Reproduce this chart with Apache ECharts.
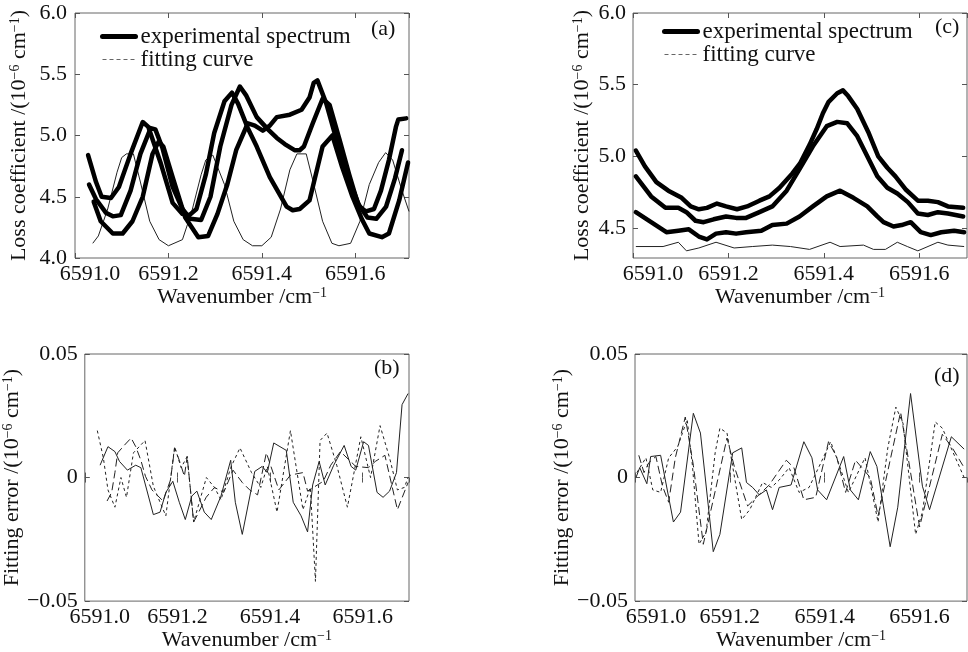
<!DOCTYPE html>
<html><head><meta charset="utf-8">
<script src="https://cdn.jsdelivr.net/npm/echarts@6/dist/echarts.min.js"></script>
<style>html,body{margin:0;padding:0;background:#fff}#c{width:968px;height:652px}</style>
</head><body><div id="c"></div>
<script>
// ---------- DATA ----------
const xTickStep = 0.2;
const lossTicksC = [4.5, 5.0, 5.5, 6.0];
const legendNames = ['experimental spectrum', 'fitting curve'];
const panelLabels = ['(a)', '(c)', '(b)', '(d)'];

// (a) experimental spectra
const aExp1 = [[6591.028,4.84],[6591.045,4.62],[6591.057,4.50],[6591.077,4.49],[6591.094,4.58],[6591.119,4.85],[6591.145,5.11],[6591.157,5.07],[6591.183,4.78],[6591.209,4.45],[6591.230,4.36],[6591.245,4.35],[6591.260,4.40],[6591.280,4.68],[6591.298,5.02],[6591.320,5.28],[6591.336,5.35],[6591.349,5.26],[6591.370,5.06],[6591.389,4.91],[6591.417,4.66],[6591.453,4.42],[6591.466,4.39],[6591.481,4.40],[6591.502,4.47],[6591.530,4.91],[6591.551,5.00],[6591.572,4.74],[6591.594,4.50],[6591.615,4.31],[6591.630,4.20],[6591.657,4.17],[6591.672,4.20],[6591.694,4.47],[6591.713,4.78]];
const aExp2 = [[6591.030,4.60],[6591.045,4.48],[6591.066,4.37],[6591.081,4.34],[6591.098,4.35],[6591.119,4.55],[6591.140,4.85],[6591.162,5.06],[6591.172,5.05],[6591.187,4.90],[6591.209,4.58],[6591.230,4.40],[6591.247,4.32],[6591.270,4.31],[6591.290,4.50],[6591.311,4.91],[6591.335,5.25],[6591.353,5.40],[6591.366,5.33],[6591.389,5.15],[6591.413,5.05],[6591.432,4.98],[6591.449,4.93],[6591.470,4.88],[6591.481,4.88],[6591.490,4.91],[6591.509,5.10],[6591.530,5.30],[6591.545,5.25],[6591.566,4.97],[6591.587,4.68],[6591.605,4.45],[6591.626,4.33],[6591.645,4.32],[6591.666,4.42],[6591.685,4.65],[6591.700,4.88]];
const aExp3 = [[6591.040,4.46],[6591.055,4.30],[6591.081,4.20],[6591.102,4.20],[6591.123,4.30],[6591.145,4.50],[6591.166,4.85],[6591.179,4.95],[6591.189,4.91],[6591.209,4.66],[6591.236,4.33],[6591.264,4.17],[6591.285,4.18],[6591.305,4.36],[6591.326,4.60],[6591.345,4.88],[6591.370,5.10],[6591.385,5.08],[6591.402,5.04],[6591.417,5.08],[6591.432,5.15],[6591.460,5.17],[6591.485,5.21],[6591.502,5.31],[6591.511,5.43],[6591.519,5.45],[6591.538,5.26],[6591.566,4.88],[6591.587,4.64],[6591.609,4.42],[6591.623,4.38],[6591.640,4.40],[6591.655,4.55],[6591.672,4.80],[6591.687,5.07],[6591.692,5.13],[6591.709,5.14]];
// (a) thin curve
const aThin = [[6591.038,4.12],[6591.050,4.18],[6591.070,4.40],[6591.090,4.70],[6591.100,4.82],[6591.110,4.85],[6591.125,4.85],[6591.140,4.62],[6591.160,4.30],[6591.180,4.15],[6591.200,4.10],[6591.230,4.15],[6591.250,4.38],[6591.270,4.68],[6591.280,4.80],[6591.295,4.84],[6591.320,4.60],[6591.340,4.30],[6591.360,4.15],[6591.380,4.10],[6591.400,4.10],[6591.420,4.17],[6591.440,4.40],[6591.460,4.72],[6591.475,4.85],[6591.495,4.85],[6591.510,4.62],[6591.530,4.30],[6591.550,4.12],[6591.565,4.10],[6591.590,4.12],[6591.610,4.30],[6591.630,4.60],[6591.650,4.78],[6591.665,4.86],[6591.680,4.80],[6591.700,4.55],[6591.715,4.38]];

// (c) experimental spectra
const cExp1 = [[6591.006,5.04],[6591.025,4.93],[6591.049,4.82],[6591.074,4.76],[6591.102,4.71],[6591.121,4.65],[6591.138,4.63],[6591.155,4.64],[6591.176,4.67],[6591.195,4.65],[6591.218,4.63],[6591.239,4.65],[6591.265,4.69],[6591.286,4.72],[6591.307,4.78],[6591.334,4.88],[6591.350,4.95],[6591.370,5.08],[6591.385,5.19],[6591.398,5.30],[6591.410,5.38],[6591.428,5.44],[6591.440,5.46],[6591.451,5.42],[6591.470,5.33],[6591.493,5.17],[6591.514,5.00],[6591.533,4.92],[6591.550,4.86],[6591.571,4.77],[6591.597,4.69],[6591.618,4.69],[6591.639,4.68],[6591.660,4.65],[6591.692,4.64]];
const cExp2 = [[6591.006,4.86],[6591.038,4.72],[6591.068,4.64],[6591.095,4.64],[6591.112,4.61],[6591.131,4.55],[6591.148,4.54],[6591.169,4.56],[6591.195,4.58],[6591.216,4.57],[6591.237,4.57],[6591.265,4.61],[6591.292,4.65],[6591.322,4.76],[6591.349,4.91],[6591.377,5.07],[6591.406,5.21],[6591.428,5.24],[6591.449,5.23],[6591.470,5.14],[6591.491,5.00],[6591.512,4.86],[6591.533,4.78],[6591.554,4.74],[6591.576,4.68],[6591.597,4.60],[6591.618,4.59],[6591.639,4.61],[6591.660,4.60],[6591.692,4.58]];
const cExp3 = [[6591.006,4.61],[6591.038,4.54],[6591.070,4.47],[6591.095,4.48],[6591.117,4.49],[6591.138,4.44],[6591.155,4.42],[6591.174,4.46],[6591.195,4.47],[6591.216,4.46],[6591.237,4.47],[6591.269,4.48],[6591.292,4.52],[6591.322,4.53],[6591.349,4.58],[6591.377,4.65],[6591.406,4.72],[6591.434,4.76],[6591.462,4.71],[6591.491,4.65],[6591.512,4.58],[6591.525,4.54],[6591.546,4.51],[6591.563,4.52],[6591.582,4.54],[6591.603,4.47],[6591.624,4.45],[6591.646,4.47],[6591.673,4.48],[6591.694,4.47]];
// (c) thin curve
const cThin = [[6591.006,4.37],[6591.063,4.37],[6591.095,4.40],[6591.112,4.34],[6591.138,4.36],[6591.174,4.40],[6591.212,4.36],[6591.250,4.37],[6591.292,4.38],[6591.330,4.37],[6591.370,4.35],[6591.413,4.40],[6591.434,4.37],[6591.483,4.38],[6591.504,4.35],[6591.529,4.35],[6591.554,4.40],[6591.575,4.37],[6591.597,4.34],[6591.639,4.40],[6591.660,4.38],[6591.694,4.37]];

// (b) fitting errors
const bSolid = [[6591.033,0.005],[6591.050,0.0125],[6591.065,0.0105],[6591.075,0.0065],[6591.092,0.003],[6591.110,0.005],[6591.121,0.004],[6591.148,-0.015],[6591.1625,-0.014],[6591.175,-0.006],[6591.190,-0.0015],[6591.204,-0.010],[6591.217,-0.017],[6591.231,-0.0075],[6591.242,-0.0055],[6591.258,-0.014],[6591.273,-0.017],[6591.294,-0.0075],[6591.315,0.007],[6591.325,-0.010],[6591.340,-0.023],[6591.367,0.0025],[6591.383,0.0045],[6591.394,0.002],[6591.408,0.014],[6591.435,0.011],[6591.450,-0.010],[6591.467,-0.0155],[6591.481,-0.022],[6591.492,-0.003],[6591.506,0.0065],[6591.519,-0.003],[6591.5375,0.005],[6591.560,0.013],[6591.575,0.0045],[6591.585,0.003],[6591.602,0.0145],[6591.6125,0.013],[6591.631,-0.006],[6591.644,-0.008],[6591.658,-0.0055],[6591.673,0.002],[6591.685,0.0295],[6591.698,0.034]];
const bLong = [[6591.048,-0.0095],[6591.058,-0.006],[6591.065,0.002],[6591.071,0.010],[6591.085,0.013],[6591.100,0.016],[6591.110,0.0125],[6591.121,0.007],[6591.131,0.0005],[6591.145,-0.005],[6591.169,-0.0095],[6591.185,-0.001],[6591.194,0.012],[6591.204,0.007],[6591.215,0.0005],[6591.221,0.0085],[6591.235,-0.018],[6591.246,-0.014],[6591.262,-0.008],[6591.280,-0.004],[6591.300,-0.006],[6591.320,0.003],[6591.340,-0.002],[6591.356,-0.005],[6591.373,-0.007],[6591.392,0.010],[6591.419,-0.005],[6591.444,0.001],[6591.471,0.002],[6591.481,-0.0055],[6591.515,-0.0015],[6591.531,0.005],[6591.552,0.0105],[6591.585,0.0045],[6591.6125,0.004],[6591.627,0.0065],[6591.648,0.009],[6591.675,-0.013],[6591.698,-0.002]];
const bShort = [[6591.027,0.019],[6591.040,0.008],[6591.050,-0.005],[6591.065,-0.012],[6591.078,0.000],[6591.090,-0.008],[6591.105,0.010],[6591.130,0.015],[6591.148,-0.0035],[6591.1625,-0.010],[6591.175,-0.0155],[6591.194,0.0125],[6591.208,0.004],[6591.221,0.0085],[6591.235,-0.018],[6591.2625,0.000],[6591.280,-0.004],[6591.294,-0.009],[6591.315,0.004],[6591.335,0.012],[6591.360,0.002],[6591.380,-0.004],[6591.394,0.0045],[6591.415,-0.014],[6591.444,0.019],[6591.471,-0.013],[6591.487,-0.004],[6591.498,-0.042],[6591.508,0.015],[6591.523,0.018],[6591.544,0.005],[6591.567,-0.012],[6591.596,0.0165],[6591.617,0.000],[6591.6375,0.021],[6591.658,0.008],[6591.675,-0.005],[6591.690,-0.004],[6591.698,0.000]];

// (d) fitting errors
const dSolid = [[6591.002,0.000],[6591.010,0.004],[6591.025,-0.0025],[6591.033,0.0085],[6591.054,0.009],[6591.081,-0.018],[6591.096,-0.014],[6591.123,0.026],[6591.138,0.018],[6591.165,-0.030],[6591.179,-0.023],[6591.206,0.010],[6591.225,0.012],[6591.235,-0.002],[6591.248,-0.004],[6591.262,-0.007],[6591.277,-0.005],[6591.290,-0.013],[6591.304,-0.004],[6591.329,-0.003],[6591.356,0.0145],[6591.373,0.008],[6591.385,-0.005],[6591.404,-0.009],[6591.440,0.0085],[6591.454,-0.005],[6591.471,-0.009],[6591.496,0.0105],[6591.510,0.0045],[6591.538,-0.028],[6591.554,-0.012],[6591.581,0.034],[6591.606,-0.0035],[6591.621,-0.013],[6591.667,0.0165],[6591.694,0.0115]];
const dLong = [[6591.008,0.009],[6591.019,0.002],[6591.029,0.006],[6591.044,0.0085],[6591.058,-0.0035],[6591.071,-0.010],[6591.085,0.008],[6591.106,0.0245],[6591.123,0.005],[6591.144,-0.027],[6591.158,-0.015],[6591.194,0.016],[6591.210,0.004],[6591.2375,-0.0115],[6591.256,-0.008],[6591.283,-0.003],[6591.319,0.007],[6591.335,0.004],[6591.356,-0.009],[6591.381,-0.008],[6591.408,0.0145],[6591.425,0.0085],[6591.444,-0.006],[6591.465,0.007],[6591.496,0.000],[6591.5125,-0.0155],[6591.560,0.0265],[6591.600,-0.020],[6591.648,0.0175],[6591.669,0.012],[6591.694,0.004]];
const dShort = [[6591.004,0.002],[6591.023,0.008],[6591.0375,-0.005],[6591.054,-0.006],[6591.071,0.008],[6591.090,0.0125],[6591.110,0.0235],[6591.121,0.005],[6591.135,-0.027],[6591.150,-0.022],[6591.169,0.010],[6591.179,0.020],[6591.194,0.018],[6591.225,-0.017],[6591.242,-0.013],[6591.269,-0.002],[6591.2875,-0.004],[6591.304,-0.001],[6591.325,0.004],[6591.346,-0.006],[6591.367,-0.004],[6591.392,0.006],[6591.4125,0.0145],[6591.429,0.006],[6591.450,-0.006],[6591.485,0.008],[6591.5125,-0.018],[6591.533,0.012],[6591.550,0.0285],[6591.565,0.022],[6591.5917,-0.023],[6591.606,-0.014],[6591.633,0.0225],[6591.648,0.020],[6591.694,0.000]];

// ---------- CHART ----------
const FONT = "'Liberation Serif', 'Times New Roman', serif";
const TXT = '#111';
const FS = 22;
const supRich = { s: { fontSize: 14, fontFamily: FONT, color: TXT, verticalAlign: 'top', lineHeight: 14 } };

const grids = [
  { left: 75, top: 13, width: 334, height: 245 },   // a
  { left: 633, top: 13, width: 334, height: 245 },  // c
  { left: 75, top: 354, width: 334, height: 248 },  // b
  { left: 635, top: 354, width: 332, height: 248 }  // d
].map(g => Object.assign(g, { show: true, borderColor: '#666', borderWidth: 1, containLabel: false }));

const xMax = [6591.715, 6591.70, 6591.70, 6591.70];
const firstShift = [15, 20, 15, 21];

const tickStyle = { inside: true, length: 5, lineStyle: { color: '#555' } };
const xAxis = [], yAxis = [];
grids.forEach((g, i) => {
  xAxis.push({
    type: 'value', gridIndex: i, min: 6591.0, max: xMax[i], interval: xTickStep, position: 'bottom',
    name: 'Wavenumber /cm{s|−1}', nameLocation: 'middle', nameGap: 26,
    nameTextStyle: { fontFamily: FONT, fontSize: FS, color: TXT, rich: supRich },
    axisLine: { show: false }, axisTick: tickStyle, splitLine: { show: false },
    axisLabel: {
      margin: 5, fontFamily: FONT, fontSize: FS, color: TXT, showMaxLabel: false, showMinLabel: true,
      alignMinLabel: 'center', hideOverlap: false,
      formatter: v => Math.abs(v - 6591) < 1e-6 ? '{f|6591.0}' : v.toFixed(1),
      rich: { f: { fontFamily: FONT, fontSize: FS, color: TXT, padding: [0, 0, 0, firstShift[i] * 2] } }
    }
  });
  xAxis.push({
    type: 'value', gridIndex: i, min: 6591.0, max: xMax[i], interval: xTickStep, position: 'top',
    axisLine: { show: false }, axisTick: tickStyle, axisLabel: { show: false }, splitLine: { show: false }
  });
  const isLoss = i < 2;
  const base = { type: 'value', gridIndex: i, axisLine: { show: false }, splitLine: { show: false } };
  let main, side;
  if (i === 0) {
    main = Object.assign({}, base, { min: 4.0, max: 6.0, interval: 0.5, axisTick: tickStyle,
      axisLabel: { margin: 8, fontFamily: FONT, fontSize: FS, color: TXT, formatter: v => v.toFixed(1) } });
    side = Object.assign({}, base, { min: 4.0, max: 6.0, interval: 0.5, position: 'right', axisTick: tickStyle, axisLabel: { show: false } });
  } else if (i === 1) {
    main = Object.assign({}, base, { min: 4.29, max: 6.0,
      axisTick: Object.assign({}, tickStyle, { customValues: lossTicksC }),
      axisLabel: { margin: 7, fontFamily: FONT, fontSize: FS, color: TXT, customValues: lossTicksC, formatter: v => v.toFixed(1) } });
    side = Object.assign({}, base, { min: 4.29, max: 6.0, position: 'right',
      axisTick: Object.assign({}, tickStyle, { customValues: lossTicksC }), axisLabel: { show: false } });
  } else {
    main = Object.assign({}, base, { min: -0.05, max: 0.05, interval: 0.05, axisTick: tickStyle,
      axisLabel: { margin: 7, fontFamily: FONT, fontSize: FS, color: TXT, lineHeight: 10,
        formatter: v => Math.abs(v) < 1e-9 ? '0' : (v < 0 ? '−' : '') + Math.abs(v).toFixed(2) } });
    side = Object.assign({}, base, { min: -0.05, max: 0.05, interval: 0.05, position: 'right', axisTick: tickStyle, axisLabel: { show: false } });
  }
  main.position = 'left';
  main.name = isLoss ? 'Loss coefficient /(10{s|−6} cm{s|−1})' : 'Fitting error /(10{s|−6} cm{s|−1})';
  main.nameLocation = 'middle';
  main.nameGap = (i === 0 || i === 2) ? 45 : 40;
  main.nameTextStyle = { fontFamily: FONT, fontSize: FS, color: TXT, rich: supRich };
  yAxis.push(main, side);
});

function thick(data, gi) {
  return { name: 'experimental spectrum', type: 'line', data, xAxisIndex: gi * 2, yAxisIndex: gi * 2,
    symbol: 'none', lineStyle: { width: 4.5, color: '#000', cap: 'round', join: 'round' }, itemStyle: { color: '#000' }, z: 3 };
}
function thin(data, gi, name, dash) {
  return { name, type: 'line', data, xAxisIndex: gi * 2, yAxisIndex: gi * 2, symbol: 'none',
    lineStyle: { width: 1, color: '#222', type: dash || 'solid' }, itemStyle: { color: '#222' }, z: 2 };
}

const series = [
  thick(aExp1, 0), thick(aExp2, 0), thick(aExp3, 0), thin(aThin, 0, 'thin a'),
  { name: 'fitting curve', type: 'line', data: [], xAxisIndex: 0, yAxisIndex: 0, symbol: 'none',
    lineStyle: { width: 1, color: '#666', type: [4, 3] }, itemStyle: { color: '#666' } },
  thick(cExp1, 1), thick(cExp2, 1), thick(cExp3, 1), thin(cThin, 1, 'thin c'),
  thin(bSolid, 2, 'b1'), thin(bLong, 2, 'b2', [8, 4]), thin(bShort, 2, 'b3', [3, 3]),
  thin(dSolid, 3, 'd1'), thin(dLong, 3, 'd2', [8, 4]), thin(dShort, 3, 'd3', [3, 3])
];

const legendData = [
  { name: legendNames[0], lineStyle: { width: 5, color: '#000', type: 'solid' } },
  { name: legendNames[1], lineStyle: { width: 1, color: '#666', type: [4, 3] } }
];
const legendBase = { orient: 'vertical', itemWidth: 33, itemHeight: 12, itemGap: 0, selectedMode: false,
  data: legendData, itemStyle: { color: 'rgba(0,0,0,0)', borderWidth: 0, opacity: 0 },
  textStyle: { fontFamily: FONT, fontSize: 23, color: TXT, lineHeight: 22 }, padding: 0 };
const legend = [
  Object.assign({}, legendBase, { left: 100, top: 25 }),
  Object.assign({}, legendBase, { left: 662, top: 20 })
];

const labelPos = [[371, 18], [935, 16], [374, 357], [934, 365]];
const title = panelLabels.map((t, i) => ({ text: t, left: labelPos[i][0], top: labelPos[i][1], padding: 0,
  textStyle: { fontFamily: FONT, fontSize: FS, fontWeight: 'normal', color: TXT } }));

const chart = echarts.init(document.getElementById('c'), null, { renderer: 'canvas' });
chart.setOption({ animation: false, backgroundColor: '#fff', title, legend, grid: grids, xAxis, yAxis, series });
</script></body></html>
